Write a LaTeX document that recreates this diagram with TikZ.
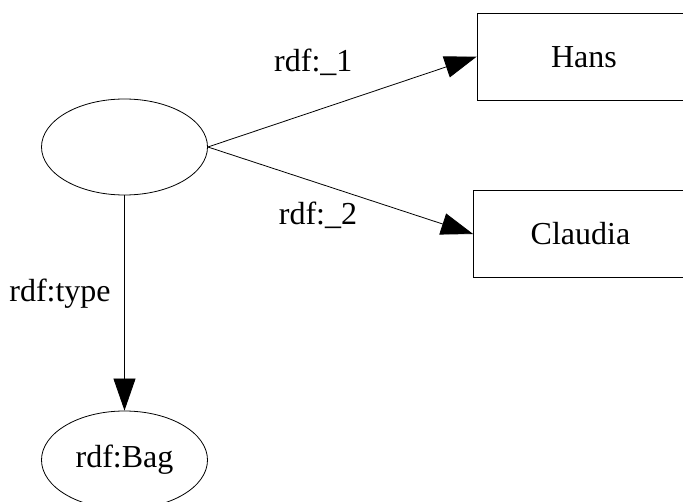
\documentclass[tikz,border=0pt]{standalone}
\usepackage{fontspec}
\setmainfont{Liberation Serif}
\usetikzlibrary{shapes.geometric,arrows.meta}
\begin{document}
\begin{tikzpicture}[x=1pt,y=-1pt,line width=.8pt,
		font=\fontsize{32}{36}\selectfont,
		res/.style={draw,ellipse,inner sep=0pt,minimum width=166pt,minimum height=96pt},
		lit/.style={draw,rectangle,inner sep=0pt,minimum width=214pt,minimum height=87pt},
		prop/.style={anchor=base,inner sep=0pt},
		edge/.style={-{Triangle[length=32pt,width=22pt]}}]
		\clip (0, 0) rectangle (683, 502);
		\node[res] (bag) at (124.5, 147) {};
		\node[lit] (hans) at (584, 56.7) {Hans};
		\node[lit] (claudia) at (580.5, 234) {Claudia};
		\node[res,minimum height=98pt] (rdfbag) at (124.5, 460) {rdf:Bag};
		\draw[edge] (bag.east) -- (hans.west);
		\draw[edge] (bag.east) -- (claudia.west);
		\draw[edge] (bag.south) -- (rdfbag.north);
		\node[prop] (one) at (313.3, 71.7) {rdf:\_1};
		\node[prop] (two) at (318, 225) {rdf:\_2};
		\node[prop] (type) at (60, 301.7) {rdf:type};
\end{tikzpicture}
\end{document}
